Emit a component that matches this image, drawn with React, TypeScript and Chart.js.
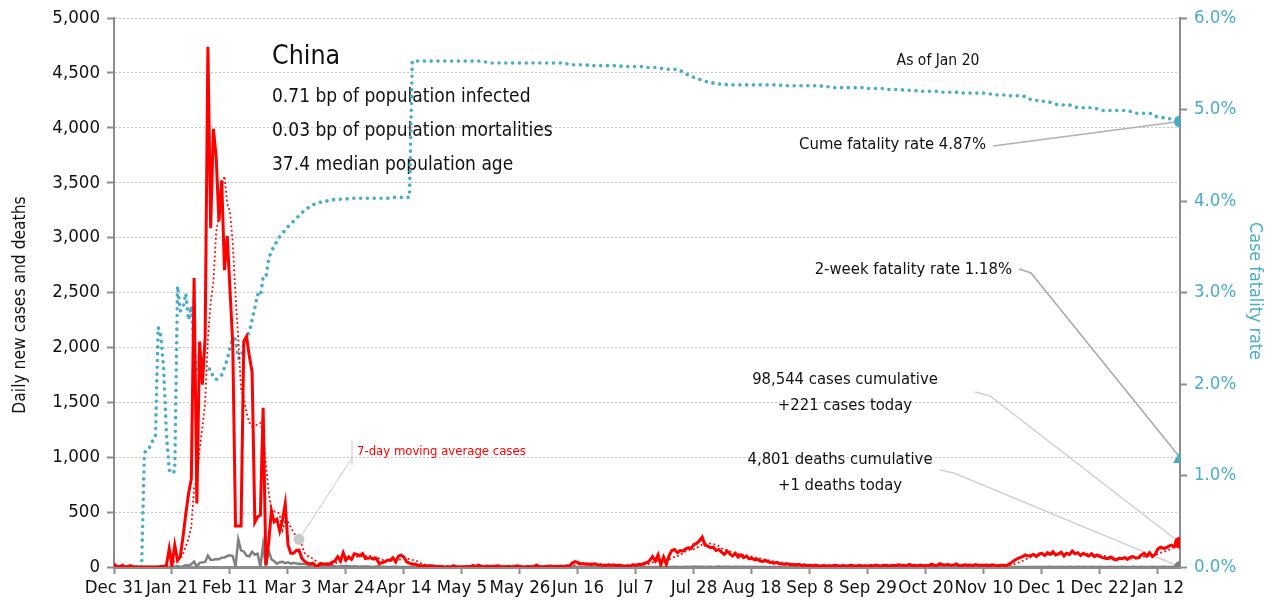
import React, { useEffect, useRef } from 'react';
import { Chart, registerables } from 'chart.js';

Chart.register(...registerables);

// ---- tick labels (one every 21 days, starting Dec 31, 2019) ----
const tickLabels = ['Dec 31', 'Jan 21', 'Feb 11', 'Mar 3', 'Mar 24', 'Apr 14', 'May 5', 'May 26', 'Jun 16', 'Jul 7',
  'Jul 28', 'Aug 18', 'Sep 8', 'Sep 29', 'Oct 20', 'Nov 10', 'Dec 1', 'Dec 22', 'Jan 12'];
const tickStepDays = 21;

// ---- daily new cases (Dec 31, 2019 .. Jan 20, 2021), one row = 21 days ----
const dailyCases = [
  27, 5, 0, 15, 0, 5, 12, 0, 0, 0, 0, 0, 0, 0, 0, 0, 0, 4, 4, 17, 167,
  15, 200, 60, 95, 277, 486, 669, 802, 2632, 578, 2054, 1661, 2089, 4739, 3086, 3991, 3733, 3147, 3523, 2704, 3015,
  2525, 2032, 373, 373, 373, 2055, 2100, 1921, 1777, 408, 458, 473, 1451, 21, 219, 513, 412, 434, 328, 428, 576,
  204, 125, 125, 151, 153, 80, 53, 37, 27, 34, 11, 13, 32, 26, 30, 25, 44, 54, 94, 55, 130,
  63, 93, 70, 121, 115, 102, 123, 76, 81, 82, 71, 79, 32, 39, 46, 61, 62, 84, 46, 99, 108,
  89, 46, 36, 26, 27, 16, 12, 11, 12, 10, 11, 6, 3, 6, 2, 1, 3, 1, 12, 2, 1,
  3, 2, 4, 2, 14, 1, 17, 7, 3, 8, 5, 7, 6, 11, 4, 3, 3, 7, 1, 5, 11,
  5, 1, 2, 4, 2, 3, 16, 5, 3, 4, 6, 9, 4, 5, 6, 6, 4, 11, 10, 38, 49,
  40, 28, 32, 25, 26, 24, 30, 21, 19, 17, 14, 21, 14, 19, 12, 18, 10, 8, 11, 9, 21,
  15, 24, 20, 35, 40, 60, 95, 55, 110, 20, 90, 25, 105, 150, 160, 130, 150, 145, 165, 175, 170,
  205, 215, 240, 272, 200, 190, 175, 180, 150, 160, 135, 115, 145, 120, 100, 125, 90, 110, 85, 100, 75,
  80, 65, 70, 55, 50, 60, 45, 40, 35, 42, 30, 28, 25, 30, 20, 22, 18, 25, 15, 20, 12,
  15, 10, 18, 12, 8, 14, 10, 12, 9, 16, 11, 8, 13, 10, 12, 15, 9, 11, 14, 10, 12,
  10, 14, 12, 18, 9, 11, 16, 13, 10, 15, 12, 20, 17, 14, 11, 24, 13, 15, 10, 18, 12,
  14, 12, 25, 16, 13, 30, 20, 18, 22, 15, 17, 28, 14, 12, 20, 16, 18, 13, 22, 15, 17,
  15, 18, 12, 20, 14, 10, 16, 15, 12, 25, 40, 60, 75, 85, 95, 110, 100, 105, 115, 95, 120,
  125, 105, 130, 115, 140, 110, 120, 135, 100, 125, 115, 145, 120, 130, 105, 125, 110, 100, 120, 95, 110,
  95, 85, 80, 75, 90, 70, 65, 80, 75, 85, 70, 90, 95, 80, 85, 110, 125, 100, 130, 95, 115,
  165, 180, 170, 175, 190, 200, 185, 235, 221,
];

// ---- daily deaths ----
const dailyDeaths = [
  0, 0, 0, 0, 0, 0, 0, 0, 0, 0, 0, 1, 0, 0, 0, 0, 0, 1, 0, 1, 3,
  3, 3, 8, 1, 8, 16, 14, 26, 49, 2, 38, 42, 46, 103, 64, 66, 72, 70, 85, 87, 100,
  107, 100, 5, 252, 152, 142, 103, 98, 139, 112, 122, 0, 205, 2, 150, 71, 52, 29, 44, 47, 35,
  42, 31, 38, 31, 30, 28, 27, 22, 17, 22, 11, 7, 13, 10, 14, 13, 11, 8, 3, 7, 6,
  9, 7, 4, 6, 5, 3, 5, 4, 4, 3, 1, 4, 7, 2, 3, 1, 1, 3, 2, 1, 1,
  1, 0, 0, 0, 0, 0, 0, 0, 1, 0, 0, 0, 0, 0, 0, 0, 0, 0, 0, 0, 0,
  0, 0, 0, 0, 0, 0, 0, 0, 0, 0, 0, 0, 0, 0, 0, 0, 0, 0, 0, 0, 0,
  0, 0, 0, 0, 0, 0, 0, 0, 0, 0, 0, 0, 0, 0, 0, 0, 0, 0, 0, 0, 0,
  0, 0, 0, 0, 0, 0, 0, 0, 0, 0, 0, 0, 0, 0, 0, 0, 0, 0, 0, 0, 0,
  0, 0, 0, 0, 0, 0, 0, 0, 1, 0, 0, 1, 0, 1, 2, 0, 1, 0, 2, 1, 3,
  2, 3, 2, 3, 1, 2, 3, 1, 2, 4, 1, 2, 3, 2, 1, 3, 2, 1, 2, 1, 2,
  1, 2, 1, 1, 2, 1, 0, 1, 2, 1, 0, 1, 1, 0, 1, 0, 1, 0, 0, 1, 0,
  0, 0, 0, 0, 0, 0, 0, 0, 0, 0, 0, 0, 0, 0, 0, 0, 0, 0, 0, 0, 0,
  0, 0, 0, 0, 0, 0, 0, 0, 0, 0, 0, 0, 0, 0, 0, 0, 0, 0, 0, 0, 0,
  0, 0, 0, 0, 0, 0, 0, 0, 0, 0, 0, 0, 0, 0, 0, 0, 0, 0, 0, 0, 0,
  0, 0, 0, 0, 0, 0, 0, 0, 0, 0, 0, 0, 0, 0, 0, 0, 0, 0, 0, 0, 0,
  0, 1, 0, 2, 1, 0, 1, 2, 0, 1, 2, 1, 0, 3, 1, 2, 0, 1, 2, 1, 0,
  2, 1, 0, 1, 2, 1, 0, 1, 2, 1, 0, 1, 2, 0, 1, 2, 1, 0, 1, 2, 1,
  0, 1, 2, 1, 0, 1, 2, 1, 1,
];

// ---- cumulative case fatality rate (%) ----
const caseFatalityRate = [
  0, 0, 0, 0, 0, 0, 0, 0, 0, 0, 0, 1.24, 1.3, 1.31, 1.38, 1.42, 2.62, 2.52, 2.15, 1.45, 1.06,
  1.02, 1.05, 3.07, 2.8, 2.83, 2.99, 2.7, 2.85, 2.38, 2.18, 2.1, 2.17, 2.18, 2.17, 2.16, 2.07, 2.05, 2.07, 2.1, 2.18, 2.27,
  2.39, 2.5, 2.49, 2.28, 2.29, 2.43, 2.5, 2.57, 2.7, 2.83, 2.98, 2.96, 3.17, 3.17, 3.37, 3.45, 3.51, 3.56, 3.61, 3.65, 3.68,
  3.72, 3.75, 3.78, 3.81, 3.84, 3.87, 3.9, 3.92, 3.94, 3.96, 3.97, 3.98, 3.99, 4.0, 4.0, 4.01, 4.01, 4.02, 4.02, 4.02, 4.02,
  4.02, 4.03, 4.03, 4.03, 4.03, 4.03, 4.03, 4.03, 4.03, 4.03, 4.03, 4.03, 4.03, 4.03, 4.03, 4.03, 4.04, 4.04, 4.04, 4.04, 4.04,
  4.04, 4.04, 4.04, 5.53, 5.53, 5.53, 5.53, 5.53, 5.53, 5.53, 5.53, 5.53, 5.53, 5.53, 5.53, 5.53, 5.53, 5.53, 5.53, 5.53, 5.53,
  5.53, 5.53, 5.53, 5.53, 5.53, 5.53, 5.53, 5.53, 5.52, 5.52, 5.51, 5.51, 5.51, 5.51, 5.51, 5.51, 5.51, 5.51, 5.51, 5.51, 5.51,
  5.51, 5.51, 5.51, 5.51, 5.51, 5.51, 5.51, 5.51, 5.51, 5.51, 5.51, 5.51, 5.51, 5.51, 5.51, 5.51, 5.51, 5.5, 5.5, 5.49, 5.49,
  5.49, 5.49, 5.49, 5.49, 5.48, 5.48, 5.48, 5.48, 5.48, 5.48, 5.48, 5.48, 5.48, 5.48, 5.48, 5.48, 5.47, 5.47, 5.47, 5.47, 5.47,
  5.47, 5.47, 5.47, 5.46, 5.46, 5.46, 5.46, 5.46, 5.45, 5.45, 5.45, 5.44, 5.44, 5.44, 5.44, 5.44, 5.43, 5.41, 5.39, 5.38, 5.37,
  5.35, 5.34, 5.33, 5.32, 5.31, 5.3, 5.3, 5.29, 5.29, 5.28, 5.28, 5.28, 5.27, 5.27, 5.27, 5.27, 5.27, 5.27, 5.27, 5.27, 5.27,
  5.27, 5.27, 5.27, 5.27, 5.27, 5.27, 5.27, 5.27, 5.27, 5.27, 5.27, 5.26, 5.26, 5.26, 5.26, 5.26, 5.26, 5.26, 5.26, 5.26, 5.26,
  5.26, 5.26, 5.26, 5.26, 5.26, 5.25, 5.25, 5.25, 5.24, 5.24, 5.24, 5.24, 5.24, 5.24, 5.24, 5.24, 5.24, 5.24, 5.24, 5.24, 5.24,
  5.23, 5.23, 5.23, 5.23, 5.23, 5.23, 5.23, 5.22, 5.22, 5.22, 5.22, 5.22, 5.22, 5.21, 5.21, 5.21, 5.21, 5.21, 5.2, 5.2, 5.2,
  5.2, 5.2, 5.2, 5.2, 5.2, 5.19, 5.19, 5.19, 5.19, 5.19, 5.19, 5.19, 5.18, 5.18, 5.18, 5.18, 5.18, 5.18, 5.18, 5.18, 5.18,
  5.18, 5.17, 5.17, 5.17, 5.16, 5.16, 5.16, 5.16, 5.16, 5.15, 5.15, 5.15, 5.15, 5.15, 5.15, 5.14, 5.12, 5.11, 5.11, 5.1, 5.1,
  5.09, 5.09, 5.09, 5.08, 5.07, 5.06, 5.05, 5.05, 5.05, 5.05, 5.05, 5.04, 5.03, 5.02, 5.02, 5.02, 5.02, 5.02, 5.02, 5.01, 5.01,
  5.0, 4.99, 4.99, 4.99, 4.99, 4.99, 4.99, 4.99, 4.99, 4.99, 4.99, 4.98, 4.97, 4.96, 4.96, 4.96, 4.96, 4.96, 4.96, 4.95, 4.93,
  4.92, 4.92, 4.91, 4.91, 4.9, 4.9, 4.89, 4.88, 4.87,
];

const twoWeekFatalityRate = 1.18;
const maCalloutDay = 67;
const maWindow = 7;

const FONT = "'DejaVu Sans Condensed', 'Liberation Sans Narrow', sans-serif";
const RED = '#ff0000';
const TEAL = '#4bacc6';
const GRAY = '#808080';
const AXIS = '#8c8c8c';
const TICK_SIZE = 18.5;
const NOTE_SIZE = 16.5;

// trailing 7-day moving average of the daily cases
const movingAvg = dailyCases.map((_, i) => {
  const from = Math.max(0, i - maWindow + 1);
  const slice = dailyCases.slice(from, i + 1);
  return slice.reduce((a, b) => a + b, 0) / slice.length;
});

const lastI = dailyCases.length - 1;
const toXY = (arr: number[]) => arr.map((v, i) => ({ x: i, y: v }));

const annotations = {
  id: 'annotations',
  beforeDatasetsDraw(chart: any) {
    const { ctx, scales } = chart;
    const xs = scales.x, ys = scales.y, y2 = scales.y2;
    const px = xs.getPixelForValue(lastI);
    const text = (s: string, x: number, y: number, size: number, align: CanvasTextAlign, color = '#111') => {
      ctx.font = `${size}px ${FONT}`;
      ctx.fillStyle = color;
      ctx.textAlign = align;
      ctx.textBaseline = 'middle';
      ctx.fillText(s, x, y);
    };
    const poly = (pts: number[][], color: string, w: number) => {
      ctx.strokeStyle = color;
      ctx.lineWidth = w;
      ctx.setLineDash([]);
      ctx.beginPath();
      pts.forEach(([x, y], i) => (i ? ctx.lineTo(x, y) : ctx.moveTo(x, y)));
      ctx.stroke();
    };
    ctx.save();
    // axis titles
    ctx.save();
    ctx.translate(21, 305);
    ctx.rotate(-Math.PI / 2);
    text('Daily new cases and deaths', 0, 0, 17.3, 'center', '#111');
    ctx.restore();
    ctx.save();
    ctx.translate(1255, 291);
    ctx.rotate(Math.PI / 2);
    text('Case fatality rate', 0, 0, 17.8, 'center', TEAL);
    ctx.restore();

    // title block
    text('China', 272, 57, 26.5, 'left');
    text('0.71 bp of population infected', 272, 97, 19, 'left');
    text('0.03 bp of population mortalities', 272, 131, 19, 'left');
    text('37.4 median population age', 272, 165, 19, 'left');
    text('As of Jan 20', 938, 61, 15.5, 'center');

    // callouts
    text('Cume fatality rate 4.87%', 986, 145, NOTE_SIZE, 'right');
    poly([[993, 146], [px, y2.getPixelForValue(caseFatalityRate[lastI])]], '#b0b0b0', 1.5);

    text('2-week fatality rate 1.18%', 1012, 270, NOTE_SIZE, 'right');
    poly([[1019, 269], [1031, 273], [px - 2, y2.getPixelForValue(twoWeekFatalityRate) - 4]], '#a8a8a8', 1.5);

    text('98,544 cases cumulative', 845, 380, NOTE_SIZE, 'center');
    text('+221 cases today', 845, 406, NOTE_SIZE, 'center');
    poly([[975, 392], [990, 396], [px, ys.getPixelForValue(dailyCases[lastI])]], '#d0d0d0', 1.5);

    text('4,801 deaths cumulative', 840, 460, NOTE_SIZE, 'center');
    text('+1 deaths today', 840, 486, NOTE_SIZE, 'center');
    poly([[940, 470], [954, 473], [px, ys.getPixelForValue(dailyDeaths[lastI])]], '#d0d0d0', 1.5);

    text('7-day moving average cases', 357, 452, 13, 'left', RED);
    poly([[352, 441], [352, 465]], '#c8c8c8', 1);
    poly([[352, 458], [xs.getPixelForValue(maCalloutDay), ys.getPixelForValue(movingAvg[maCalloutDay])]], '#c8c8c8', 1);
    ctx.restore();
  },
};

export default function App() {
  const ref = useRef<HTMLCanvasElement>(null);
  useEffect(() => {
    document.body.style.margin = '0';
    Chart.defaults.font.family = FONT;
    const endRadius = (r: number) => (c: any) => (c.dataIndex === lastI ? r : 0);
    const chart = new Chart(ref.current!, {
      type: 'line',
      data: {
        datasets: [
          {
            label: '2-week fatality rate',
            data: [{ x: lastI, y: twoWeekFatalityRate }],
            yAxisID: 'y2',
            showLine: false,
            pointStyle: 'triangle',
            pointRadius: 8,
            pointBackgroundColor: TEAL,
            pointBorderWidth: 0,
          },
          {
            label: 'Daily new cases',
            data: toXY(dailyCases),
            yAxisID: 'y',
            borderColor: RED,
            borderWidth: 3,
            tension: 0,
            pointRadius: endRadius(6),
            pointBackgroundColor: RED,
            pointBorderWidth: 0,
          },
          {
            label: '7-day moving average cases',
            data: toXY(movingAvg),
            yAxisID: 'y',
            borderColor: RED,
            borderWidth: 1.8,
            borderDash: [1.8, 2.6],
            tension: 0,
            pointRadius: (c: any) => (c.dataIndex === maCalloutDay ? 5.5 : 0),
            pointBackgroundColor: '#c8c8c8',
            pointBorderWidth: 0,
          },
          {
            label: 'Cume fatality rate',
            data: toXY(caseFatalityRate),
            yAxisID: 'y2',
            borderColor: TEAL,
            borderWidth: 3.6,
            borderDash: [0.01, 6.8],
            borderCapStyle: 'round',
            tension: 0,
            pointRadius: endRadius(6),
            pointBackgroundColor: TEAL,
            pointBorderWidth: 0,
          },
          {
            label: 'Daily deaths',
            data: toXY(dailyDeaths),
            yAxisID: 'y',
            borderColor: GRAY,
            borderWidth: 2.5,
            tension: 0,
            pointRadius: endRadius(6),
            pointBackgroundColor: GRAY,
            pointBorderWidth: 0,
          },
        ],
      },
      options: {
        responsive: false,
        animation: false,
        devicePixelRatio: 1,
        events: [],
        layout: { padding: { top: 16, left: 0, right: 0, bottom: 0 } },
        plugins: { legend: { display: false }, tooltip: { enabled: false } },
        scales: {
          x: {
            type: 'linear',
            min: 0,
            max: lastI,
            afterFit: (s: any) => { s.height = 41; },
            grid: { drawOnChartArea: false, drawTicks: true, tickLength: 7, tickColor: AXIS, tickWidth: 2 },
            border: { display: true, color: AXIS, width: 3 },
            ticks: {
              stepSize: tickStepDays,
              autoSkip: false,
              maxRotation: 0,
              includeBounds: false,
              padding: 3,
              color: '#111',
              font: { size: TICK_SIZE },
              callback: (v: any) => tickLabels[Math.round(Number(v) / tickStepDays)] ?? '',
            },
          },
          y: {
            position: 'left',
            min: 0,
            max: 5000,
            afterFit: (s: any) => { s.width = 114; },
            grid: { color: '#c4c4c4', lineWidth: 1, drawTicks: true, tickLength: 7, tickColor: AXIS, tickWidth: 2, tickBorderDash: [] },
            border: { display: true, color: AXIS, width: 2, dash: [2, 2] },
            ticks: {
              stepSize: 500,
              padding: 7,
              color: '#111',
              font: { size: TICK_SIZE },
              callback: (v: any) => Number(v).toLocaleString('en-US'),
            },
          },
          y2: {
            position: 'right',
            min: 0,
            max: 6,
            afterFit: (s: any) => { s.width = 94; },
            grid: { drawOnChartArea: false, drawTicks: true, tickLength: 7, tickColor: AXIS, tickWidth: 2 },
            border: { display: true, color: AXIS, width: 2 },
            ticks: {
              stepSize: 1,
              padding: 7,
              color: TEAL,
              font: { size: TICK_SIZE },
              callback: (v: any) => Number(v).toFixed(1) + '%',
            },
          },
        },
      },
      plugins: [annotations],
    } as any);
    return () => chart.destroy();
  }, []);
  return (
    <div style={{ width: 1274, height: 608 }}>
      <canvas ref={ref} width={1274} height={608} style={{ display: 'block' }} />
    </div>
  );
}
